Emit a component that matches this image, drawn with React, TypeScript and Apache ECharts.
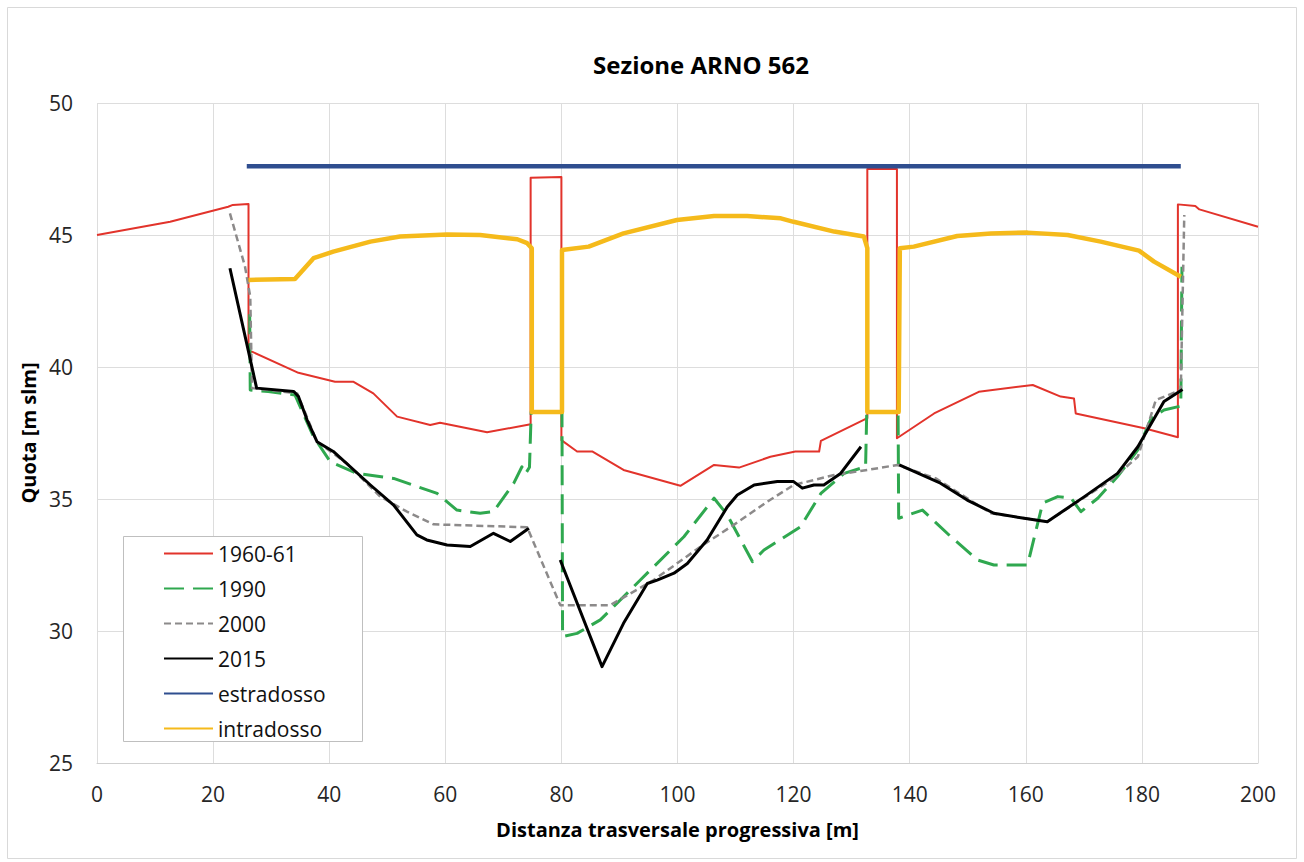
import React, { useEffect, useRef } from "react";
import * as echarts from "echarts";

const FONT = "'Open Sans', 'Noto Sans', sans-serif";

// Axis ranges / ticks
const xMin = 0, xMax = 200, xStep = 20;
const yMin = 25, yMax = 50, yStep = 5;

// 1960-61
const x1960 = [0, 12.6, 22.6, 23.4, 26.1, 26.1, 26.7, 34.7, 41.0, 44.2, 47.6, 51.7, 57.4, 59.1, 67.2, 74.7, 74.7, 80.0, 80.0, 82.7, 85.3, 90.7, 100.5, 106.3, 110.6, 116.0, 120.3, 124.4, 124.7, 132.7, 132.7, 137.8, 137.8, 144.2, 151.9, 161.2, 166.0, 168.3, 168.6, 180.4, 186.2, 186.2, 189.2, 189.9, 200];
const y1960 = [45.0, 45.5, 46.07, 46.14, 46.17, 40.6, 40.58, 39.78, 39.44, 39.44, 39.0, 38.12, 37.8, 37.89, 37.53, 37.83, 47.17, 47.2, 37.23, 36.8, 36.8, 36.1, 35.5, 36.29, 36.19, 36.6, 36.8, 36.8, 37.2, 38.06, 47.5, 47.5, 37.3, 38.24, 39.06, 39.32, 38.88, 38.81, 38.24, 37.68, 37.34, 46.16, 46.1, 45.97, 45.31];

// 1990
const x1990 = [26.3, 26.4, 29.5, 34.1, 37.3, 40.2, 44.8, 51.1, 58.6, 62.0, 66.0, 68.3, 71.8, 73.2, 73.8, 74.5, 74.8, 80.1, 80.2, 82.7, 86.7, 93.6, 101.1, 106.3, 108.6, 112.9, 114.9, 121.2, 124.7, 128.7, 132.4, 132.6, 138.0, 138.1, 142.2, 147.1, 151.7, 154.5, 160.3, 162.9, 165.5, 167.8, 169.5, 172.4, 175.8, 179.3, 181.6, 183.8, 186.7, 186.9];
const y1990 = [42.0, 39.13, 39.07, 38.94, 37.36, 36.41, 35.97, 35.78, 35.21, 34.58, 34.46, 34.52, 35.6, 36.22, 35.95, 36.2, 38.3, 38.3, 29.79, 29.91, 30.42, 31.93, 33.57, 35.03, 34.39, 32.63, 33.07, 33.95, 35.21, 35.97, 36.22, 38.3, 38.3, 34.27, 34.58, 33.57, 32.69, 32.5, 32.5, 34.84, 35.09, 35.03, 34.52, 35.03, 35.85, 36.86, 38.06, 38.37, 38.52, 43.8];

// 2000
const x2000 = [22.9, 25.5, 26.4, 26.7, 34.5, 37.9, 43.05, 48.8, 53.4, 58.0, 74.1, 79.8, 88.4, 95.9, 104.0, 109.7, 115.5, 120.0, 127.0, 132.7, 137.9, 144.5, 154.0, 163.7, 174.7, 179.3, 182.4, 186.7, 187.3];
const y2000 = [45.82, 43.8, 42.66, 39.2, 39.0, 37.17, 36.35, 35.09, 34.52, 34.04, 33.93, 30.98, 30.98, 31.93, 33.2, 34.02, 34.9, 35.53, 35.91, 36.1, 36.29, 35.78, 34.46, 34.14, 35.72, 36.6, 38.75, 39.13, 45.76];

// 2015 (null = gap in the survey)
const x2015 = [22.9, 27.5, 33.9, 34.7, 36.2, 37.9, 40.7, 47.1, 51.1, 55.1, 56.8, 60.3, 64.3, 68.3, 71.2, 74.4, 77.0, 79.8, 87.0, 90.7, 94.8, 96.5, 99.4, 101.7, 105.1, 108.6, 110.3, 113.2, 117.2, 120.0, 121.5, 123.5, 125.2, 128.1, 131.6, 135.0, 138.2, 145.3, 149.9, 154.5, 159.7, 163.7, 170.1, 175.8, 179.3, 183.8, 187.0];
const y2015 = [43.74, 39.2, 39.07, 38.88, 37.99, 37.17, 36.8, 35.53, 34.77, 33.64, 33.45, 33.26, 33.2, 33.7, 33.39, 33.89, null, 32.69, 28.65, 30.29, 31.8, 31.93, 32.19, 32.56, 33.45, 34.71, 35.15, 35.53, 35.66, 35.66, 35.41, 35.53, 35.53, 35.97, 36.98, null, 36.29, 35.6, 34.96, 34.46, 34.27, 34.14, 35.09, 35.97, 36.98, 38.69, 39.15];

// estradosso
const xEstr = [25.8, 186.7];
const yEstr = [47.6, 47.6];

// intradosso
const xIntr = [26.1, 34.1, 37.3, 40.7, 47.1, 52.2, 60.3, 66.0, 72.4, 74.1, 74.9, 74.9, 80.1, 80.1, 84.7, 90.7, 99.9, 106.3, 112.0, 117.8, 120.0, 127.0, 132.1, 132.7, 132.7, 138.1, 138.3, 140.7, 148.2, 154.0, 160.3, 167.2, 172.9, 179.5, 182.1, 186.7];
const yIntr = [43.3, 43.33, 44.12, 44.37, 44.75, 44.94, 45.02, 45.0, 44.84, 44.69, 44.5, 38.3, 38.3, 44.43, 44.56, 45.06, 45.57, 45.72, 45.72, 45.63, 45.5, 45.13, 44.94, 44.5, 38.3, 38.3, 44.5, 44.56, 44.96, 45.06, 45.09, 45.0, 44.75, 44.41, 43.99, 43.42];

const seriesNames = ["1960-61", "1990", "2000", "2015", "estradosso", "intradosso"];

const zip = (xs: number[], ys: (number | null)[]) =>
  xs.map((x, i) => (ys[i] === null ? [x, null] : [x, ys[i]]));

const lineSeries = (name: string, data: any[], color: string, width: number, type: any) => ({
  type: "line",
  name,
  data,
  symbol: "none",
  showSymbol: false,
  connectNulls: false,
  silent: true,
  emphasis: { disabled: true },
  z: 2,
  itemStyle: { color },
  lineStyle: { color, width, type, join: "round", cap: "butt" },
});

export default function App() {
  const ref = useRef<HTMLDivElement>(null);

  useEffect(() => {
    if (!ref.current) return;
    const chart = echarts.init(ref.current, undefined, { renderer: "svg" });
    const option: any = {
      animation: false,
      backgroundColor: "#ffffff",
      textStyle: { fontFamily: FONT },
      grid: { left: 97, right: 46, top: 103, bottom: 99 },
      xAxis: {
        type: "value",
        min: xMin,
        max: xMax,
        interval: xStep,
        name: "Distanza trasversale progressiva [m]",
        nameLocation: "middle",
        nameGap: 56,
        nameTextStyle: { fontSize: 20, fontWeight: "bold", color: "#000", fontFamily: FONT },
        axisLine: { show: true, lineStyle: { color: "#CFCFCF", width: 1 } },
        axisTick: { show: false },
        splitLine: { show: true, lineStyle: { color: "#DDDDDD", width: 1 } },
        axisLabel: { fontSize: 21, color: "#262626", margin: 20, fontFamily: FONT },
      },
      yAxis: {
        type: "value",
        min: yMin,
        max: yMax,
        interval: yStep,
        name: "Quota [m slm]",
        nameLocation: "middle",
        nameGap: 55,
        nameRotate: 90,
        nameTextStyle: { fontSize: 20, fontWeight: "bold", color: "#000", fontFamily: FONT },
        axisLine: { show: false },
        axisTick: { show: false },
        splitLine: { show: true, lineStyle: { color: "#DDDDDD", width: 1 } },
        axisLabel: { fontSize: 21, color: "#262626", margin: 24, fontFamily: FONT },
      },
      legend: {
        orient: "vertical",
        left: 163,
        top: 543,
        padding: 0,
        itemWidth: 49,
        itemHeight: 14,
        itemGap: 14,
        z: 6,
        selectedMode: false,
        data: seriesNames,
        itemStyle: { opacity: 0, borderWidth: 0 },
        textStyle: { fontSize: 21, color: "#111", lineHeight: 20, fontFamily: FONT },
      },
      graphic: [
        {
          type: "rect",
          silent: true,
          z: 0,
          shape: { x: 7.5, y: 7.5, width: 1289, height: 851 },
          style: { fill: "none", stroke: "#D9D9D9", lineWidth: 1 },
        },
        {
          type: "rect",
          silent: true,
          z: 5,
          shape: { x: 123.5, y: 536.5, width: 239, height: 205 },
          style: { fill: "#ffffff", stroke: "#BFBFBF", lineWidth: 1 },
        },
        {
          type: "text",
          silent: true,
          z: 5,
          x: 701,
          y: 64,
          style: {
            text: "Sezione ARNO 562",
            fontSize: 24,
            fontWeight: "bold",
            fontFamily: FONT,
            fill: "#000",
            align: "center",
            verticalAlign: "middle",
          },
        },
      ],
      series: [
        lineSeries(seriesNames[0], zip(x1960, y1960), "#E2332B", 2, "solid"),
        lineSeries(seriesNames[1], zip(x1990, y1990), "#2FA84F", 3, [20, 9]),
        lineSeries(seriesNames[2], zip(x2000, y2000), "#8C8A8A", 2.5, [7, 4]),
        lineSeries(seriesNames[3], zip(x2015, y2015), "#000000", 3, "solid"),
        lineSeries(seriesNames[4], zip(xEstr, yEstr), "#2F4E8F", 4.5, "solid"),
        lineSeries(seriesNames[5], zip(xIntr, yIntr), "#F5BA1B", 4.5, "solid"),
      ],
    };
    chart.setOption(option);
    return () => chart.dispose();
  }, []);

  return (
    <div
      ref={ref}
      style={{ position: "absolute", left: 0, top: 0, width: 1304, height: 862, background: "#fff" }}
    />
  );
}
